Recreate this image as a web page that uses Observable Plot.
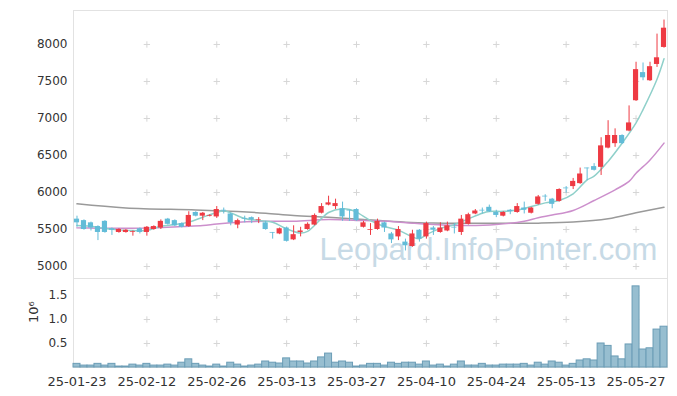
<!DOCTYPE html>
<html><head><meta charset="utf-8">
<script src="https://cdn.jsdelivr.net/npm/d3@7"></script>
<script src="https://cdn.jsdelivr.net/npm/@observablehq/plot@0.6"></script>
<style>body{margin:0;background:#fff} #chart svg{display:block}</style>
</head><body><div id="chart"></div>
<script>
const dates = ["25-01-23","25-01-24","25-01-31","25-02-03","25-02-04","25-02-05","25-02-06","25-02-07","25-02-10","25-02-11",
"25-02-12","25-02-13","25-02-14","25-02-17","25-02-18","25-02-19","25-02-20","25-02-21","25-02-24","25-02-25",
"25-02-26","25-02-27","25-02-28","25-03-04","25-03-05","25-03-06","25-03-07","25-03-10","25-03-11","25-03-12",
"25-03-13","25-03-14","25-03-17","25-03-18","25-03-19","25-03-20","25-03-21","25-03-24","25-03-25","25-03-26",
"25-03-27","25-03-28","25-03-31","25-04-01","25-04-02","25-04-03","25-04-04","25-04-07","25-04-08","25-04-09",
"25-04-10","25-04-11","25-04-14","25-04-15","25-04-16","25-04-17","25-04-18","25-04-21","25-04-22","25-04-23",
"25-04-24","25-04-25","25-04-28","25-04-29","25-04-30","25-05-02","25-05-07","25-05-08","25-05-09","25-05-12",
"25-05-13","25-05-14","25-05-15","25-05-16","25-05-19","25-05-20","25-05-21","25-05-22","25-05-23","25-05-26",
"25-05-27","25-05-28","25-05-29","25-05-30","25-06-02"];
const open = [5640,5620,5590,5540,5610,5510,5460,5460,5460,5510,
5460,5500,5520,5640,5620,5580,5540,5730,5680,5680,
5670,5760,5710,5560,5650,5660,5620,5590,5460,5440,
5520,5360,5460,5500,5560,5720,5830,5810,5780,5760,
5770,5530,5490,5500,5590,5440,5400,5330,5270,5490,
5400,5520,5460,5480,5530,5460,5570,5710,5760,5800,
5730,5680,5760,5730,5790,5720,5840,5950,5910,5880,
6060,6080,6120,6330,6350,6340,6600,6660,6770,6830,
7240,7620,7510,7730,7960];
const high = [5680,5630,5600,5550,5620,5520,5510,5500,5480,5520,
5540,5550,5630,5650,5630,5590,5740,5740,5730,5700,
5810,5790,5720,5640,5680,5670,5660,5610,5460,5520,
5530,5550,5530,5590,5710,5850,5950,5910,5870,5760,
5780,5610,5580,5640,5600,5460,5540,5370,5490,5500,
5600,5540,5590,5600,5580,5690,5720,5770,5790,5830,
5760,5740,5770,5850,5870,5800,5960,5970,5920,6050,
6080,6190,6330,6330,6390,6740,6970,6860,6780,7170,
7760,7750,7760,8140,8330];
const low = [5530,5490,5480,5350,5450,5420,5450,5450,5410,5440,
5410,5490,5500,5560,5540,5520,5530,5670,5620,5670,
5650,5710,5550,5510,5590,5580,5580,5490,5370,5430,
5330,5350,5400,5490,5550,5710,5820,5770,5610,5610,
5610,5520,5420,5490,5460,5310,5350,5210,5260,5330,
5370,5420,5450,5470,5440,5420,5560,5700,5710,5730,
5660,5670,5700,5720,5710,5710,5830,5880,5780,5870,
5990,6040,6110,6160,6290,6230,6590,6610,6650,6820,
7230,7510,7500,7690,7950];
const close = [5590,5500,5520,5460,5460,5490,5500,5490,5470,5460,
5530,5540,5610,5570,5550,5530,5690,5680,5720,5690,
5770,5750,5590,5620,5640,5630,5630,5500,5450,5510,
5340,5430,5480,5570,5690,5810,5860,5850,5670,5750,
5620,5590,5500,5610,5520,5360,5500,5280,5440,5370,
5580,5490,5520,5550,5520,5640,5700,5750,5750,5740,
5690,5730,5740,5810,5760,5790,5940,5940,5840,6040,
6050,6150,6250,6320,6300,6630,6770,6770,6660,6940,
7660,7550,7700,7820,8220];
// volume in millions
const volume = [0.076,0.04,0.04,0.076,0.04,0.076,0.02,0.02,0.06,0.04,
0.076,0.04,0.04,0.06,0.04,0.10,0.17,0.076,0.04,0.02,
0.06,0.02,0.10,0.06,0.02,0.04,0.06,0.125,0.10,0.083,
0.19,0.125,0.125,0.083,0.125,0.21,0.29,0.10,0.125,0.10,
0.02,0.04,0.076,0.076,0.04,0.10,0.076,0.10,0.10,0.06,
0.125,0.04,0.06,0.02,0.06,0.125,0.04,0.04,0.076,0.04,
0.04,0.06,0.06,0.06,0.076,0.04,0.10,0.06,0.125,0.10,
0.04,0.076,0.146,0.17,0.146,0.50,0.45,0.23,0.17,0.48,
1.69,0.375,0.40,0.79,0.85];
// moving averages: [day index, value]
const ma5 = [[0,5555],[2,5545],[4,5515],[6,5495],[8,5486],[10,5488],[12,5545],[14,5567],[16,5600],[18,5666],[20,5730],[21,5755],[22,5725],[24,5650],[26,5621],[28,5599],[30,5509],[32,5452],[33,5475],[35,5650],[36,5730],[38,5779],[39,5770],[40,5734],[42,5621],[44,5540],[46,5490],[48,5400],[49,5374],[50,5430],[52,5515],[54,5565],[56,5644],[58,5720],[59,5743],[61,5745],[63,5762],[65,5810],[67,5860],[69,5892],[71,5982],[73,6170],[74,6220],[76,6420],[78,6665],[80,6940],[81,7120],[83,7530],[84,7806]];
const ma20 = [[0,5522],[3,5518],[7,5518],[11,5522],[15,5540],[18,5554],[20,5576],[23,5599],[27,5612],[31,5612],[36,5635],[41,5621],[45,5608],[48,5585],[51,5567],[56,5554],[60,5567],[64,5610],[66,5660],[68,5695],[71,5757],[74,5892],[77,6036],[79,6150],[80,6260],[82,6440],[84,6667]];
const ma60 = [[0,5847],[7,5792],[17,5765],[23,5743],[27,5720],[31,5689],[36,5666],[41,5635],[47,5599],[51,5588],[56,5585],[61,5585],[66,5586],[71,5600],[76,5645],[80,5725],[84,5802]];
const tickIdx = [0,10,20,30,40,50,60,70,80];
const priceTicks = [5000,5500,6000,6500,7000,7500,8000];
const volTicks = [0.5,1.0,1.5];

const UP = "#ee3a43", DOWN = "#62bcd8";
const rows = dates.map((d,i)=>({i, date:d, o:open[i], h:high[i], l:low[i], c:close[i], v:volume[i]}));
const col = d => d.c >= d.o ? UP : DOWN;
const xs = {domain:[-0.5,84.5], ticks: tickIdx};
const font = "DejaVu Sans";

const priceGrid = [];
for (const x of tickIdx.slice(1)) for (const y of priceTicks) priceGrid.push({x,y});
const volGrid = [];
for (const x of tickIdx.slice(1)) for (const y of volTicks) volGrid.push({x,y});

const price = Plot.plot({
  width: 677, height: 278, marginTop: 10, marginBottom: 0, marginLeft: 73, marginRight: 10,
  style: {fontFamily: font, fontSize: "12px", color: "#333", background: "#fff"},
  x: {...xs, axis: null},
  y: {domain:[4838, 8459], axis: null},
  marks: [
    Plot.frame({stroke:"#e2e2e2"}),
    Plot.dot(priceGrid, {x:"x", y:"y", symbol:"plus", r:2.2, stroke:"#d6d6d6", strokeWidth:1}),
    Plot.text(["Leopard.InfoPointer.com"], {frameAnchor:"bottom", dx:118, dy:-28, lineAnchor:"middle", text:d=>d, fontSize:31, fontFamily:"Liberation Sans", fill:"#c7dae6"}),
    Plot.axisY({ticks: priceTicks, tickSize:0, tickPadding:6, tickFormat: d3.format("d"), fontSize:12, fill:"#333"}),
    Plot.line(ma60, {x:d=>d[0], y:d=>d[1], stroke:"#9a9a9a", strokeWidth:1.5, curve:"catmull-rom"}),
    Plot.line(ma20, {x:d=>d[0], y:d=>d[1], stroke:"#cc8fcc", strokeWidth:1.5, curve:"catmull-rom"}),
    Plot.line(ma5, {x:d=>d[0], y:d=>d[1], stroke:"#8fd0ca", strokeWidth:1.5, curve:"catmull-rom"}),
    Plot.ruleX(rows, {x:"i", y1:"l", y2:"h", stroke: col, strokeWidth:1}),
    Plot.rect(rows, {x1:d=>d.i-0.37, x2:d=>d.i+0.37, y1:"o", y2:"c", fill: col})
  ]
});

const vol = Plot.plot({
  width: 677, height: 118, marginTop: 0, marginBottom: 29, marginLeft: 73, marginRight: 10,
  style: {fontFamily: font, fontSize: "12px", color: "#333", background: "#fff"},
  x: {...xs, axis: null},
  y: {domain:[0, 1.854], axis: null},
  marks: [
    Plot.frame({stroke:"#e2e2e2"}),
    Plot.dot(volGrid, {x:"x", y:"y", symbol:"plus", r:2.2, stroke:"#d6d6d6", strokeWidth:1}),
    Plot.rectY(rows, {x1:d=>d.i-0.5, x2:d=>d.i+0.5, y:"v", fill:"#97bed0", stroke:"#6b9db6", strokeWidth:1}),
    Plot.axisY({ticks: volTicks, tickSize:0, tickPadding:6, tickFormat: d3.format(".1f"), fontSize:12, label:null, fill:"#333"}),
    Plot.axisX({ticks: tickIdx, tickSize:0, tickPadding:9, tickFormat: i => dates[i], fontSize:13, label:null, fill:"#333"}),
    Plot.text(["10⁶"], {frameAnchor:"left", dx:-40, rotate:-90, text:d=>d, fontSize:13, fill:"#333"})
  ]
});

const el = document.getElementById("chart");
el.append(price, vol);
</script>
</body></html>
